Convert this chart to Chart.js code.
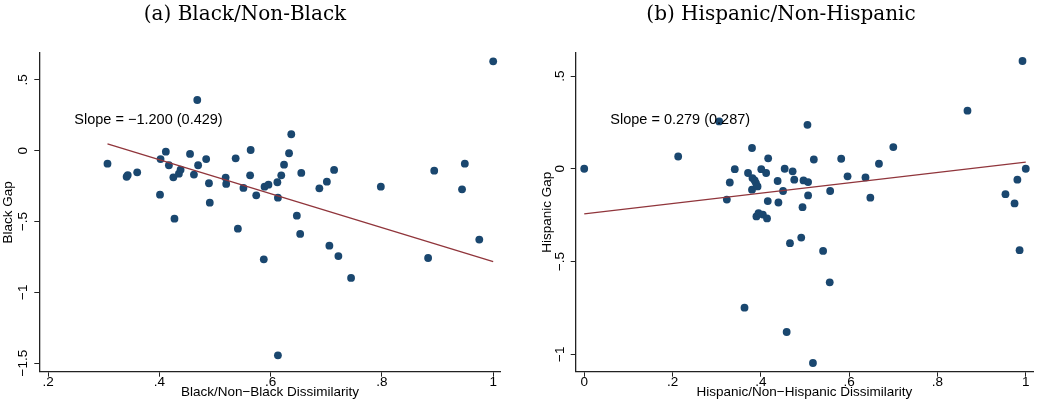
<!DOCTYPE html>
<html><head><meta charset="utf-8">
<script src="https://cdn.jsdelivr.net/npm/chart.js@4.4.1/dist/chart.umd.min.js"></script>
<style>
html,body{margin:0;padding:0;background:#fff;width:1037px;height:410px;overflow:hidden;}
.box{position:absolute;top:0;height:410px;}
#w1{left:0;width:518px;} #w2{left:539px;width:498px;}
</style></head><body>
<div class="box" id="w1"><canvas id="c1" width="518" height="410"></canvas></div>
<div class="box" id="w2"><canvas id="c2" width="498" height="410"></canvas></div>
<script>
const blackDissim = [0.3066,0.341,0.343,0.360,0.402,0.401,0.4115,0.417,0.425,0.427,0.435,0.438,0.455,0.462,0.468,0.4695,0.484,0.489,0.4905,0.519,0.520,0.537,0.541,0.551,0.563,0.564,0.574,0.5876,0.589,0.596,0.612,0.613,0.613,0.619,0.624,0.633,0.637,0.647,0.653,0.655,0.6875,0.701,0.7055,0.714,0.7217,0.7445,0.798,0.883,0.894,0.944,0.949,0.975,1.0];
const blackGap = [-0.092,-0.184,-0.172,-0.153,-0.059,-0.311,-0.007,-0.103,-0.188,-0.480,-0.162,-0.134,-0.023,-0.169,0.358,-0.103,-0.059,-0.230,-0.367,-0.190,-0.235,-0.054,-0.551,-0.263,-0.174,0.005,-0.315,-0.767,-0.254,-0.240,-0.223,-1.445,-0.332,-0.174,-0.099,-0.018,0.116,-0.459,-0.588,-0.157,-0.266,-0.219,-0.671,-0.136,-0.744,-0.899,-0.254,-0.758,-0.141,-0.273,-0.092,-0.628,0.631];
const hispDissim = [0,0.2128,0.3057,0.323,0.3297,0.341,0.363,0.371,0.380,0.380,0.381,0.386,0.389,0.3926,0.390,0.3948,0.401,0.4045,0.412,0.414,0.4157,0.4166,0.438,0.4398,0.4503,0.454,0.4585,0.466,0.472,0.4757,0.4915,0.4944,0.4966,0.5056,0.507,0.507,0.518,0.520,0.541,0.556,0.557,0.582,0.5964,0.637,0.648,0.6675,0.700,0.868,0.954,0.9746,0.981,0.986,0.9926,1.0];
const hispGap = [0,0.066,0.255,-0.166,-0.074,-0.002,-0.749,-0.023,0.112,-0.113,-0.050,-0.063,-0.077,-0.095,-0.257,-0.239,-0.002,-0.247,-0.023,-0.268,-0.174,0.056,-0.066,-0.182,-0.120,0.0,-0.880,-0.401,-0.014,-0.059,-0.371,-0.207,-0.063,0.237,-0.072,-0.144,-1.047,0.050,-0.443,-0.612,-0.120,0.054,-0.041,-0.047,-0.156,0.027,0.117,0.313,-0.137,-0.187,-0.059,-0.439,0.581,0.0];
const blackFitX = [0.3066, 1.0];
const blackFitY = [0.049, -0.783];
const hispFitX = [0, 1.0];
const hispFitY = [-0.243, 0.036];
const blackXTicks = [0.2,0.4,0.6,0.8,1];
const blackXLabels = ['.2','.4','.6','.8','1'];
const blackYTicks = [-1.5,-1,-0.5,0,0.5];
const blackYLabels = ['\u22121.5','\u22121','\u2212.5','0','.5'];
const hispXTicks = [0,0.2,0.4,0.6,0.8,1];
const hispXLabels = ['0','.2','.4','.6','.8','1'];
const hispYTicks = [-1,-0.5,0,0.5];
const hispYLabels = ['\u22121','\u2212.5','0','.5'];
const panelTitles = ['(a) Black/Non-Black','(b) Hispanic/Non-Hispanic'];
const xTitles = ['Black/Non\u2212Black Dissimilarity','Hispanic/Non\u2212Hispanic Dissimilarity'];
const yTitles = ['Black Gap','Hispanic Gap'];
const slopeTexts = ['Slope = \u22121.200 (0.429)','Slope = 0.279 (0.287)'];
const slopeAt = [[0.247,0.217],[0.059,0.264]];

const NAVY = '#1a476f', MAROON = '#90353b', AX = '#222222';
const SANS = '"Liberation Sans", Arial, sans-serif';

const panelPlugin = {
  id: 'panelText',
  afterDraw(chart, args, o) {
    const ctx = chart.ctx;
    ctx.save();
    ctx.fillStyle = '#000';
    ctx.font = '20px "DejaVu Serif", serif';
    ctx.textAlign = 'center';
    ctx.textBaseline = 'middle';
    ctx.fillText(o.title, o.titleX, 15);
    ctx.font = '14.5px ' + SANS;
    ctx.textAlign = 'left';
    const x = chart.scales.x.getPixelForValue(o.slopeAt[0]);
    const y = chart.scales.y.getPixelForValue(o.slopeAt[1]);
    ctx.fillText(o.slope, x, y);
    ctx.restore();
  }
};

function make(id, p) {
  const pts = p.xs.map((v, i) => ({x: v, y: p.ys[i]}));
  const fit = p.fx.map((v, i) => ({x: v, y: p.fy[i]}));
  return new Chart(document.getElementById(id), {
    type: 'scatter',
    data: { datasets: [
      { type: 'line', data: fit, borderColor: MAROON, borderWidth: 1.3, pointRadius: 0, fill: false, tension: 0 },
      { data: pts, backgroundColor: NAVY, borderColor: NAVY, borderWidth: 0, pointRadius: 3.9, pointHoverRadius: 3.9 }
    ]},
    options: {
      responsive: false, animation: false, devicePixelRatio: 1,
      layout: { padding: { top: 53, right: p.padRight, left: 0, bottom: 0 } },
      plugins: { legend: { display: false }, tooltip: { enabled: false }, title: { display: false },
        panelText: { title: p.title, titleX: p.titleX, slope: p.slope, slopeAt: p.slopeAt } },
      scales: {
        x: { type: 'linear', position: 'bottom', min: p.xmin, max: p.xmax,
          afterBuildTicks: s => { s.ticks = p.xt.map(v => ({value: v})); },
          afterFit: s => { s.height = 38.3; },
          grid: { display: true, drawOnChartArea: false, drawTicks: true, tickLength: 5, color: AX, lineWidth: 1 },
          border: { display: true, color: AX, width: 1.3 },
          ticks: { autoSkip: false, maxRotation: 0, minRotation: 0, padding: -2.5, color: '#000',
            font: { family: SANS, size: 13.5 }, callback: (v, i) => p.xl[i] },
          title: { display: true, text: p.xTitle, color: '#000', font: { family: SANS, size: 13.5 }, padding: { top: 0, bottom: 9.9 } }
        },
        y: { type: 'linear', position: 'left', min: p.ymin, max: p.ymax,
          afterBuildTicks: s => { s.ticks = p.yt.map(v => ({value: v})); },
          afterFit: s => { s.width = p.yW; },
          grid: { display: true, drawOnChartArea: false, drawTicks: true, tickLength: 5, color: AX, lineWidth: 1 },
          border: { display: true, color: AX, width: 1.3 },
          ticks: { autoSkip: false, minRotation: 90, maxRotation: 90, crossAlign: 'center', padding: p.yPad, color: '#000',
            font: { family: SANS, size: 13.5 }, callback: (v, i) => p.yl[i] },
          title: { display: true, text: p.yTitle, color: '#000', font: { family: SANS, size: 13.5 }, padding: { top: 0, bottom: 0 } }
        }
      }
    },
    plugins: [panelPlugin]
  });
}

make('c1', { xs: blackDissim, ys: blackGap, fx: blackFitX, fy: blackFitY,
  xt: blackXTicks, xl: blackXLabels, yt: blackYTicks, yl: blackYLabels,
  xmin: 0.184, xmax: 1.0135, ymin: -1.561, ymax: 0.69, padRight: 17.3, yW: 39.3, yPad: -2.3,
  title: panelTitles[0], titleX: 245, xTitle: xTitles[0], yTitle: yTitles[0], slope: slopeTexts[0], slopeAt: slopeAt[0] });
make('c2', { xs: hispDissim, ys: hispGap, fx: hispFitX, fy: hispFitY,
  xt: hispXTicks, xl: hispXLabels, yt: hispYTicks, yl: hispYLabels,
  xmin: -0.0193, xmax: 1.0166, ymin: -1.094, ymax: 0.624, padRight: 0, yW: 36.7, yPad: 0.4,
  title: panelTitles[1], titleX: 242, xTitle: xTitles[1], yTitle: yTitles[1], slope: slopeTexts[1], slopeAt: slopeAt[1] });
</script>
</body></html>
